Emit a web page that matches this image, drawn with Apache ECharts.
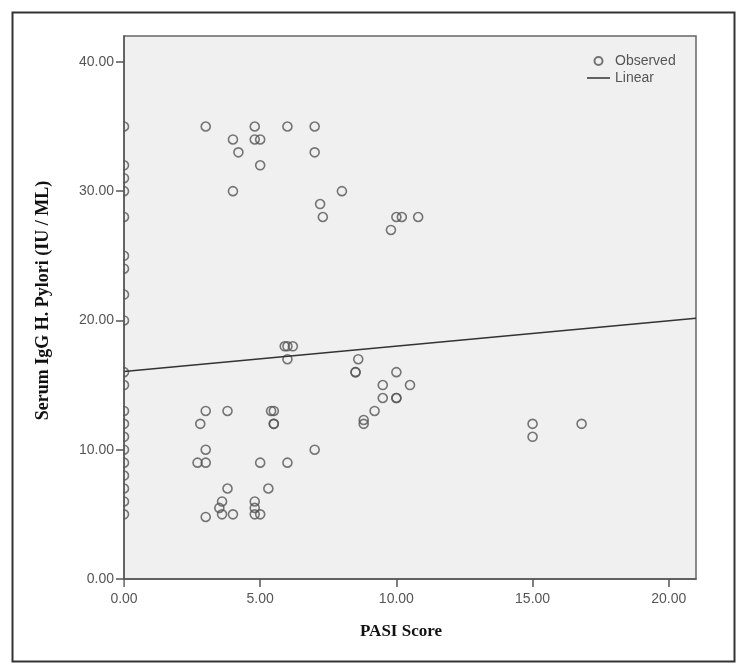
<!DOCTYPE html>
<html>
<head>
<meta charset="utf-8">
<script src="https://cdn.jsdelivr.net/npm/echarts@6/dist/echarts.min.js"></script>
<style>
html,body{margin:0;padding:0;background:#fff;}
#chart{width:744px;height:670px;}
</style>
</head>
<body>
<div id="chart"></div>
<script>
// Observed points (PASI Score, Serum IgG H. Pylori)
const obsX = [
  0,0,0,0,0,0,0,0,0,0,0,0,0,0,0,0,0,0,0,0,
  3,4.8,6,7, 4,4.8,5, 4.2,7, 5, 4,8, 7.2, 7.3,10,10.2,10.8, 9.8,
  5.9,6,6.2, 6,8.6, 8.5,8.5,10, 9.5,10.5, 9.5,10,10, 9.2, 8.8,8.8,
  3,3.8,5.4,5.5, 2.8,5.5,5.5, 3,7, 2.7,3,5,6, 3.8,5.3, 3.6,4.8, 3.5,4.8,
  3.6,4,4.8,5, 3, 15,15,16.8
];
const obsY = [
  35,32,31,30,28,25,24,22,20,16,15,13,12,11,10,9,8,7,6,5,
  35,35,35,35, 34,34,34, 33,33, 32, 30,30, 29, 28,28,28,28, 27,
  18,18,18, 17,17, 16,16,16, 15,15, 14,14,14, 13, 12.3,12,
  13,13,13,13, 12,12,12, 10,10, 9,9,9,9, 7,7, 6,6, 5.5,5.5,
  5,5,5,5, 4.8, 12,11,12
];
// Linear fit line endpoints
const fitX = [0, 21];
const fitY = [16.05, 20.17];
// Tick values
const xTicks = [0, 5, 10, 15, 20];
const yTicks = [0, 10, 20, 30, 40];

const observed = obsX.map((x, i) => [x, obsY[i]]);
const linear = fitX.map((x, i) => [x, fitY[i]]);

const labelStyle = {color: '#555', fontFamily: 'Liberation Sans', fontSize: 14};
const chart = echarts.init(document.getElementById('chart'), null, {renderer: 'canvas'});
chart.setOption({
  backgroundColor: '#fff',
  animation: false,
  grid: {
    left: 124, top: 36, right: 48, bottom: 91,
    show: true, backgroundColor: '#f0f0f0', borderColor: '#666', borderWidth: 1.5
  },
  legend: {
    orient: 'vertical', left: 587, top: 54, padding: 0, itemWidth: 23, itemHeight: 8, itemGap: 3,
    textStyle: {color: '#555', fontFamily: 'Liberation Sans', fontSize: 14, padding: [0,0,0,0]},
    data: [
      {name: 'Observed'},
      {name: 'Linear', icon: 'path://M0,0 L23,0 L23,1.5 L0,1.5 Z'}
    ]
  },
  xAxis: {
    type: 'value', min: 0, max: 21,
    name: 'PASI Score', nameLocation: 'middle', nameGap: 44,
    nameTextStyle: {fontFamily: 'Liberation Serif', fontWeight: 'bold', fontSize: 17, color: '#111', padding: [0, 18, 0, 0]},
    axisLine: {show: true, onZero: false, lineStyle: {color: '#555', width: 1.5}},
    axisTick: {show: true, length: 8, customValues: xTicks, lineStyle: {color: '#555', width: 1.5}},
    axisLabel: Object.assign({margin: 13, customValues: xTicks, formatter: v => v.toFixed(2)}, labelStyle),
    splitLine: {show: false}
  },
  yAxis: {
    type: 'value', min: 0, max: 42, z: 10,
    name: 'Serum IgG H. Pylori (IU / ML)', nameLocation: 'middle', nameGap: 72,
    nameTextStyle: {fontFamily: 'Liberation Serif', fontWeight: 'bold', fontSize: 18, color: '#111', padding: [0, 0, 0, 14]},
    axisLine: {show: true, onZero: false, lineStyle: {color: '#555', width: 1.5}},
    axisTick: {show: true, length: 8, customValues: yTicks, lineStyle: {color: '#555', width: 1.5}},
    axisLabel: Object.assign({margin: 10, customValues: yTicks, formatter: v => v.toFixed(2)}, labelStyle),
    splitLine: {show: false}
  },
  graphic: [
    {
      type: 'rect', left: 12, top: 30, z: 5, silent: true,
      shape: {width: 111.2, height: 560},
      style: {fill: '#fff', stroke: 'none'}
    },
    {
      type: 'rect', left: 10, top: 10, z: 6, silent: true,
      shape: {width: 722, height: 649},
      style: {fill: 'none', stroke: '#333', lineWidth: 2}
    }
  ],
  series: [
    {
      name: 'Observed', type: 'scatter', data: observed, symbol: 'circle', symbolSize: 9, clip: true,
      itemStyle: {color: 'rgba(0,0,0,0)', borderColor: '#555', borderWidth: 1.6}
    },
    {
      name: 'Linear', type: 'line', data: linear, showSymbol: false, symbol: 'none',
      lineStyle: {color: '#333', width: 1.5}, itemStyle: {color: '#333'}
    }
  ]
});
</script>
</body>
</html>
